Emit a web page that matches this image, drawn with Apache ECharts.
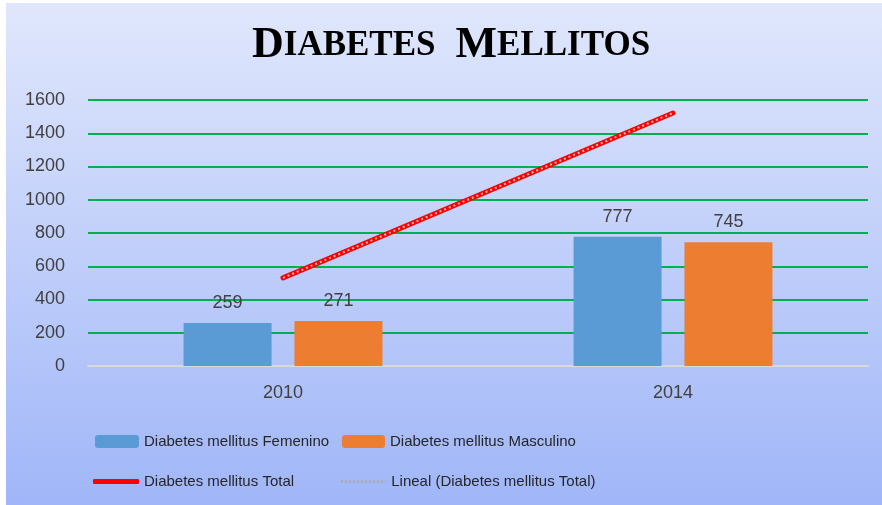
<!DOCTYPE html>
<html>
<head>
<meta charset="utf-8">
<script src="https://cdn.jsdelivr.net/npm/echarts@6/dist/echarts.min.js"></script>
<style>
html,body{margin:0;padding:0;background:#fff;}
#c{width:882px;height:505px;}
</style>
</head>
<body>
<div id="c"></div>
<script>
const categories = ['2010', '2014'];
const femenino = [259, 777];
const masculino = [271, 745];
const total = [530, 1522];
const yTicks = { min: 0, max: 1600, interval: 200 };
const seriesNames = ['Diabetes mellitus Femenino', 'Diabetes mellitus Masculino', 'Diabetes mellitus Total', 'Lineal (Diabetes mellitus Total)'];

// Linear trendline of the total (least-squares fit over category index)
function trend(vals) {
  const n = vals.length;
  let sx = 0, sy = 0, sxx = 0, sxy = 0;
  vals.forEach((v, i) => { sx += i; sy += v; sxx += i * i; sxy += i * v; });
  const b = (n * sxy - sx * sy) / (n * sxx - sx * sx);
  const a = (sy - b * sx) / n;
  return vals.map((v, i) => a + b * i);
}
const totalTrend = trend(total);

const chart = echarts.init(document.getElementById('c'), null, { renderer: 'canvas' });
const labelFont = { fontFamily: 'Liberation Sans', fontSize: 18, color: '#404040' };
const legendText = { fontFamily: 'Liberation Sans', fontSize: 15, color: '#262626' };

chart.setOption({
  animation: false,
  backgroundColor: '#ffffff',
  graphic: [{
    type: 'rect', z: -100, silent: true,
    shape: { x: 6, y: 3, width: 876, height: 502 },
    style: {
      fill: new echarts.graphic.LinearGradient(0, 0, 0, 1, [
        { offset: 0, color: '#e0e7fc' },
        { offset: 1, color: '#a0b6f8' }
      ])
    }
  }],
  title: {
    text: '{b|D}{s|IABETES}{sp| }{b|M}{s|ELLITOS}',
    left: 252,
    top: 24,
    padding: 0,
    textStyle: {
      fontFamily: 'Liberation Serif', fontWeight: 'bold', fontSize: 35, color: '#000',
      rich: {
        b: { fontFamily: 'Liberation Serif', fontWeight: 'bold', fontSize: 44, color: '#000', lineHeight: 44 },
        s: { fontFamily: 'Liberation Serif', fontWeight: 'bold', fontSize: 35, color: '#000', lineHeight: 44 },
        sp: { fontFamily: 'Liberation Serif', fontSize: 35, width: 20, lineHeight: 44 }
      }
    }
  },
  grid: { left: 88, right: 14, top: 100, bottom: 139, containLabel: false },
  legend: [
    { data: [seriesNames[0]], left: 95, top: 434, padding: 0, itemWidth: 44, itemHeight: 13, textStyle: legendText },
    { data: [seriesNames[1]], left: 342, top: 434, padding: 0, itemWidth: 43, itemHeight: 13, textStyle: legendText },
    { data: [{ name: seriesNames[2], icon: 'roundRect' }], left: 93, top: 474, padding: 0, itemWidth: 46, itemHeight: 5, textStyle: legendText },
    { data: [seriesNames[3]], left: 340, top: 474, padding: 0, itemWidth: 45, itemHeight: 13, textStyle: legendText, itemStyle: { opacity: 0 },
      lineStyle: { color: '#a8a8a8', width: 2.5, type: [2, 2] } }
  ],
  xAxis: {
    type: 'category',
    data: categories,
    axisLine: { show: true, lineStyle: { color: '#d9d9d9', width: 2 } },
    axisTick: { show: false },
    axisLabel: Object.assign({ margin: 18 }, labelFont)
  },
  yAxis: {
    type: 'value',
    min: yTicks.min, max: yTicks.max, interval: yTicks.interval,
    axisLine: { show: false },
    axisTick: { show: false },
    axisLabel: Object.assign({ margin: 23, formatter: v => String(v) }, labelFont),
    splitLine: { lineStyle: { color: '#00b050', width: 2 } }
  },
  series: [
    {
      name: seriesNames[0], type: 'bar', data: femenino,
      barWidth: 88, barGap: '26%',
      itemStyle: { color: '#5b9bd5' },
      label: Object.assign({ show: true, position: 'top', distance: 11 }, labelFont)
    },
    {
      name: seriesNames[1], type: 'bar', data: masculino,
      barWidth: 88, barGap: '26%',
      itemStyle: { color: '#ed7d31' },
      label: Object.assign({ show: true, position: 'top', distance: 11 }, labelFont)
    },
    {
      name: seriesNames[2], type: 'line', data: total,
      symbol: 'none', z: 5,
      lineStyle: { color: '#ff0000', width: 5, cap: 'round' },
      itemStyle: { color: '#ff0000' },
      label: Object.assign({ show: true, position: 'right', distance: 20 }, labelFont)
    },
    {
      name: seriesNames[3], type: 'line', data: totalTrend,
      symbol: 'none', z: 6,
      lineStyle: { color: '#bfbfbf', width: 2, type: [2, 3] },
      itemStyle: { color: '#bfbfbf' }
    }
  ]
});
</script>
</body>
</html>
